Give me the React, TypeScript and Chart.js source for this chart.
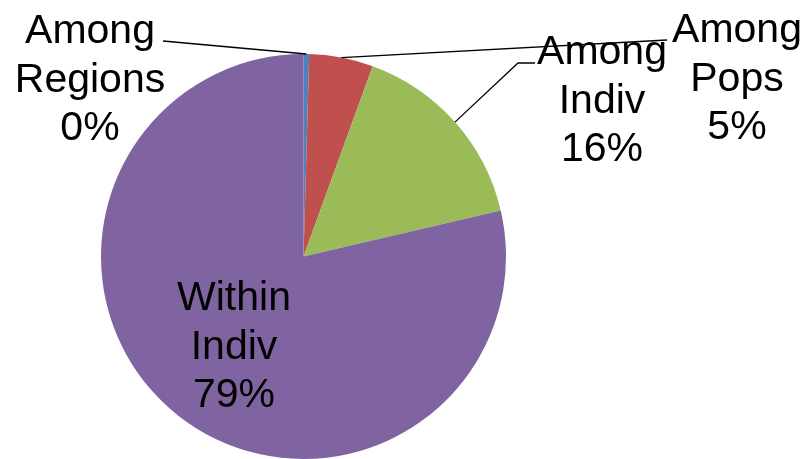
import React, { useEffect, useRef } from "react";
import { Chart, registerables } from "chart.js";

Chart.register(...registerables);

// Variance components (AMOVA), in percent of total variation
const categories = ["Among Regions", "Among Pops", "Among Indiv", "Within Indiv"];
const values = [0.45, 5.1, 15.8, 78.65];
const colors = ["#4F81BD", "#C0504D", "#9BBB59", "#8064A2"];

// Where each label block sits (centre x, first baseline) and optional leader-line elbow
type LabelLayout = { cx: number; top: number; line?: { from: [number, number]; elbow?: [number, number] } };
const labelLayout: LabelLayout[] = [
  { cx: 90, top: 43, line: { from: [163, 41] } },
  { cx: 737, top: 42, line: { from: [667, 40] } },
  { cx: 602, top: 64, line: { from: [535, 63], elbow: [518, 63] } },
  { cx: 234, top: 310 },
];

const FONT_SIZE = 41;
const LINE_HEIGHT = 48.5;

const labelPlugin = {
  id: "pieLabels",
  afterDraw(chart: Chart) {
    const ctx = chart.ctx;
    const meta = chart.getDatasetMeta(0);
    const data = chart.data.datasets[0].data as number[];
    const total = data.reduce((a, b) => a + b, 0);
    ctx.save();

    // leader lines from label to the middle of each slice's rim
    ctx.strokeStyle = "#000000";
    ctx.lineWidth = 1.3;
    meta.data.forEach((el: any, i: number) => {
      const lay = labelLayout[i];
      if (!lay.line) return;
      const { x, y, startAngle, endAngle, outerRadius } = el.getProps(
        ["x", "y", "startAngle", "endAngle", "outerRadius"],
        true
      );
      const mid = (startAngle + endAngle) / 2;
      const px = x + Math.cos(mid) * outerRadius;
      const py = y + Math.sin(mid) * outerRadius;
      ctx.beginPath();
      ctx.moveTo(lay.line.from[0], lay.line.from[1]);
      if (lay.line.elbow) ctx.lineTo(lay.line.elbow[0], lay.line.elbow[1]);
      ctx.lineTo(px, py);
      ctx.stroke();
    });

    // category name (one word per line) followed by the rounded share
    ctx.fillStyle = "#000000";
    ctx.font = `${FONT_SIZE}px "Liberation Sans", Arial, sans-serif`;
    ctx.textAlign = "center";
    ctx.textBaseline = "alphabetic";
    (chart.data.labels as string[]).forEach((label, i) => {
      const lay = labelLayout[i];
      const pct = Math.round((data[i] / total) * 100) + "%";
      const lines = [...label.split(" "), pct];
      lines.forEach((t, k) => {
        ctx.fillText(t, lay.cx, lay.top + k * LINE_HEIGHT);
      });
    });
    ctx.restore();
  },
};

export default function App() {
  const canvasRef = useRef<HTMLCanvasElement | null>(null);

  useEffect(() => {
    if (!canvasRef.current) return;
    const chart = new Chart(canvasRef.current, {
      type: "pie",
      data: {
        labels: categories,
        datasets: [
          {
            data: values,
            backgroundColor: colors,
            borderWidth: 0,
          },
        ],
      },
      options: {
        responsive: false,
        animation: false,
        devicePixelRatio: 1,
        layout: { padding: { left: 101, right: 302, top: 54, bottom: 0 } },
        plugins: {
          legend: { display: false },
          tooltip: { enabled: false },
        },
      },
      plugins: [labelPlugin],
    });
    return () => chart.destroy();
  }, []);

  return (
    <div style={{ position: "fixed", left: 0, top: 0, width: 808, height: 459, background: "#ffffff" }}>
      <canvas ref={canvasRef} width={808} height={459} style={{ display: "block" }} />
    </div>
  );
}
